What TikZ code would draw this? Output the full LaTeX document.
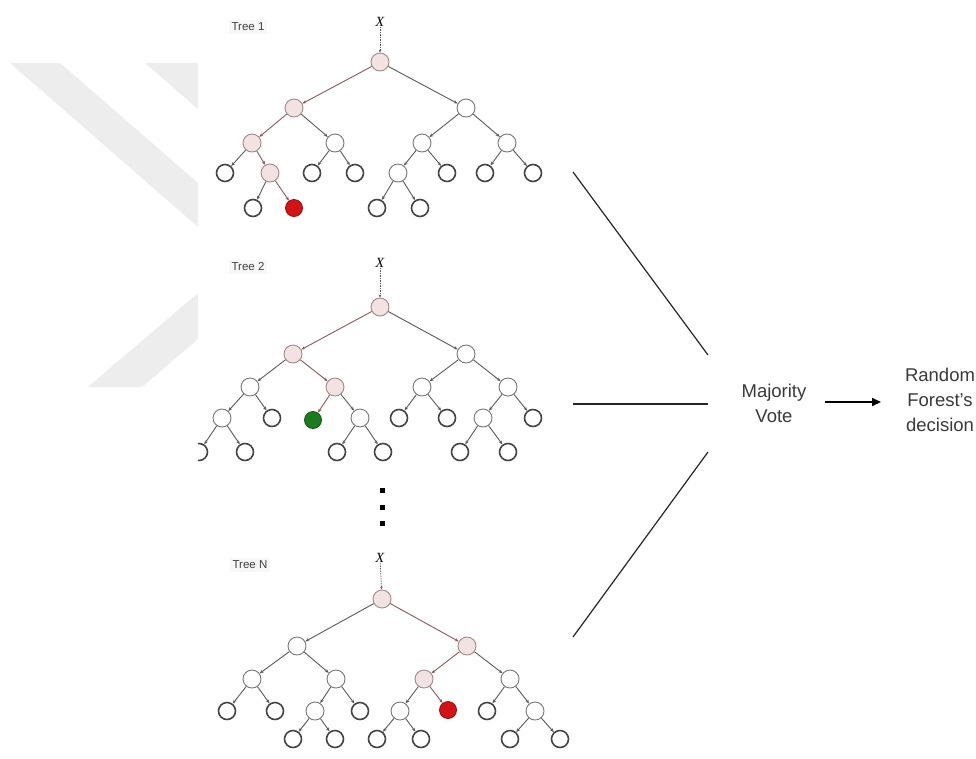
\documentclass[tikz,border=0pt]{standalone}
\usepackage{fontspec}
\setmainfont{Liberation Sans}
\newfontfamily\serifx{Liberation Serif}
\usetikzlibrary{arrows.meta}
\definecolor{pinkn}{HTML}{F2E2E2}
\definecolor{pinkline}{HTML}{A08A8A}
\definecolor{leafline}{HTML}{454545}
\definecolor{innerline}{HTML}{777777}
\definecolor{edgec}{HTML}{5A5A5A}
\definecolor{pathc}{HTML}{8A5A5A}
\definecolor{redn}{HTML}{D41414}
\definecolor{greenn}{HTML}{1E7A1E}
\definecolor{wm}{HTML}{EDEDED}
\definecolor{txt}{HTML}{3A3A3A}
\tikzset{
  lf/.style={circle,draw=leafline,line width=1.6pt,minimum size=17pt,inner sep=0pt,fill=white},
  inn/.style={circle,draw=innerline,line width=0.9pt,minimum size=18pt,inner sep=0pt,fill=white},
  pk/.style={circle,draw=pinkline,line width=0.9pt,minimum size=18pt,inner sep=0pt,fill=pinkn},
  rd/.style={circle,draw=redn!70!black,line width=0.8pt,minimum size=17pt,inner sep=0pt,fill=redn},
  gn/.style={circle,draw=greenn!70!black,line width=0.8pt,minimum size=17pt,inner sep=0pt,fill=greenn},
  ed/.style={draw=edgec,line width=0.9pt,-{Stealth[length=4pt,width=3.2pt]}},
  pe/.style={ed,draw=pathc},
  xl/.style={font=\serifx\itshape\fontsize{14}{14}\selectfont,inner sep=0pt},
  xa/.style={draw=edgec,line width=0.7pt,dash pattern=on 1.5pt off 1pt,-{Stealth[length=3pt,width=2.6pt]}},
  tl/.style={font=\fontsize{11.5}{11.5}\selectfont,text=black!75,fill=black!3,inner sep=3pt},
  dotsq/.style={fill=black,minimum size=5pt,inner sep=0pt},
  bigt/.style={font=\fontsize{18.5}{25}\selectfont,text=txt,align=center,inner sep=0pt},
  vl/.style={line width=1.2pt,draw=black!85}
}
\begin{document}
\begin{tikzpicture}[x=1pt,y=-1pt]
\useasboundingbox (0,0) rectangle (976,758);
\fill[white] (0,0) rectangle (976,758);
% watermark
\fill[wm] (10,63) -- (60,63) -- (198,183) -- (198,227) -- cycle;
\fill[wm] (145,63) -- (198,63) -- (198,109) -- cycle;
\fill[wm] (198,293) -- (198,339) -- (142,387) -- (88,387) -- cycle;

% ---------------- Tree 1
\node[tl] (t1) at (248,27) {Tree 1};
\node[xl] (x1) at (380,22) {X};
\node[pk] (a0) at (380,62) {};
\node[pk] (a1) at (294,108) {};
\node[inn] (a2) at (466,108) {};
\node[pk] (a3) at (252,143) {};
\node[inn] (a4) at (335,143) {};
\node[inn] (a5) at (422,143) {};
\node[inn] (a6) at (507,143) {};
\node[lf] (a7) at (225,173) {};
\node[pk] (a8) at (270,173) {};
\node[lf] (a9) at (312,173) {};
\node[lf] (a10) at (355,173) {};
\node[inn] (a11) at (398,173) {};
\node[lf] (a12) at (447,173) {};
\node[lf] (a13) at (485,173) {};
\node[lf] (a14) at (533,173) {};
\node[lf] (a15) at (253,208) {};
\node[rd] (a16) at (294,208) {};
\node[lf] (a17) at (377,208) {};
\node[lf] (a18) at (420,208) {};
\draw[xa] (x1) -- (a0);
\draw[pe] (a0) -- (a1);
\draw[ed] (a0) -- (a2);
\draw[pe] (a1) -- (a3);
\draw[ed] (a1) -- (a4);
\draw[ed] (a2) -- (a5);
\draw[ed] (a2) -- (a6);
\draw[ed] (a3) -- (a7);
\draw[pe] (a3) -- (a8);
\draw[ed] (a4) -- (a9);
\draw[ed] (a4) -- (a10);
\draw[ed] (a5) -- (a11);
\draw[ed] (a5) -- (a12);
\draw[ed] (a6) -- (a13);
\draw[ed] (a6) -- (a14);
\draw[ed] (a8) -- (a15);
\draw[pe] (a8) -- (a16);
\draw[ed] (a11) -- (a17);
\draw[ed] (a11) -- (a18);

% ---------------- Tree 2
\begin{scope}
\clip (198,240) rectangle (600,475);
\node[tl] (t2) at (248,267) {Tree 2};
\node[xl] (x2) at (380,263) {X};
\node[pk] (b0) at (380,307) {};
\node[pk] (b1) at (293,354) {};
\node[inn] (b2) at (466,354) {};
\node[inn] (b3) at (250,387) {};
\node[pk] (b4) at (335,387) {};
\node[inn] (b5) at (422,387) {};
\node[inn] (b6) at (508,387) {};
\node[inn] (b7) at (222,418) {};
\node[lf] (b8) at (272,418) {};
\node[gn] (b9) at (313,420) {};
\node[inn] (b10) at (360,418) {};
\node[lf] (b11) at (399,418) {};
\node[lf] (b12) at (447,418) {};
\node[inn] (b13) at (483,418) {};
\node[lf] (b14) at (533,418) {};
\node[lf] (b15) at (199,452) {};
\node[lf] (b16) at (245,452) {};
\node[lf] (b17) at (337,452) {};
\node[lf] (b18) at (383,452) {};
\node[lf] (b19) at (460,452) {};
\node[lf] (b20) at (508,452) {};
\draw[xa] (x2) -- (b0);
\draw[pe] (b0) -- (b1);
\draw[ed] (b0) -- (b2);
\draw[ed] (b1) -- (b3);
\draw[pe] (b1) -- (b4);
\draw[ed] (b2) -- (b5);
\draw[ed] (b2) -- (b6);
\draw[ed] (b3) -- (b7);
\draw[ed] (b3) -- (b8);
\draw[pe] (b4) -- (b9);
\draw[ed] (b4) -- (b10);
\draw[ed] (b5) -- (b11);
\draw[ed] (b5) -- (b12);
\draw[ed] (b6) -- (b13);
\draw[ed] (b6) -- (b14);
\draw[ed] (b7) -- (b15);
\draw[ed] (b7) -- (b16);
\draw[ed] (b10) -- (b17);
\draw[ed] (b10) -- (b18);
\draw[ed] (b13) -- (b19);
\draw[ed] (b13) -- (b20);
\end{scope}

% dots
\node[dotsq] (d1) at (382,490) {};
\node[dotsq] (d2) at (382,507) {};
\node[dotsq] (d3) at (382,523) {};

% ---------------- Tree N
\node[tl] (t3) at (250,565) {Tree N};
\node[xl] (x3) at (380,558) {X};
\node[pk] (c0) at (382,599) {};
\node[inn] (c1) at (297,646) {};
\node[pk] (c2) at (467,646) {};
\node[inn] (c3) at (252,679) {};
\node[inn] (c4) at (336,679) {};
\node[pk] (c5) at (424,679) {};
\node[inn] (c6) at (510,679) {};
\node[lf] (c7) at (227,711) {};
\node[lf] (c8) at (275,711) {};
\node[inn] (c9) at (315,711) {};
\node[lf] (c10) at (360,711) {};
\node[inn] (c11) at (400,711) {};
\node[rd] (c12) at (448,710) {};
\node[lf] (c13) at (487,711) {};
\node[inn] (c14) at (535,711) {};
\node[lf] (c15) at (293,739) {};
\node[lf] (c16) at (335,739) {};
\node[lf] (c17) at (377,739) {};
\node[lf] (c18) at (421,739) {};
\node[lf] (c19) at (510,739) {};
\node[lf] (c20) at (560,739) {};
\draw[xa] (x3) -- (c0);
\draw[ed] (c0) -- (c1);
\draw[pe] (c0) -- (c2);
\draw[ed] (c1) -- (c3);
\draw[ed] (c1) -- (c4);
\draw[pe] (c2) -- (c5);
\draw[ed] (c2) -- (c6);
\draw[ed] (c3) -- (c7);
\draw[ed] (c3) -- (c8);
\draw[ed] (c4) -- (c9);
\draw[ed] (c4) -- (c10);
\draw[ed] (c5) -- (c11);
\draw[pe] (c5) -- (c12);
\draw[ed] (c6) -- (c13);
\draw[ed] (c6) -- (c14);
\draw[ed] (c9) -- (c15);
\draw[ed] (c9) -- (c16);
\draw[ed] (c11) -- (c17);
\draw[ed] (c11) -- (c18);
\draw[ed] (c14) -- (c19);
\draw[ed] (c14) -- (c20);

% ---------------- vote
\coordinate (s1) at (573,172);
\coordinate (e1) at (708,355);
\coordinate (s2) at (573,404);
\coordinate (e2) at (708,404);
\coordinate (s3) at (573,637);
\coordinate (e3) at (708,452);
\draw[vl] (s1) -- (e1);
\draw[vl] (s2) -- (e2);
\draw[vl] (s3) -- (e3);
\node[bigt] (mv) at (774,403) {Majority\\Vote};
\node[bigt] (rf) at (940,400) {Random\\Forest's\\decision};
\coordinate (ar1) at (825,402);
\coordinate (ar2) at (881,402);
\draw[line width=1.8pt,-{Triangle[length=9pt,width=8pt]}] (ar1) -- (ar2);
\end{tikzpicture}
\end{document}
